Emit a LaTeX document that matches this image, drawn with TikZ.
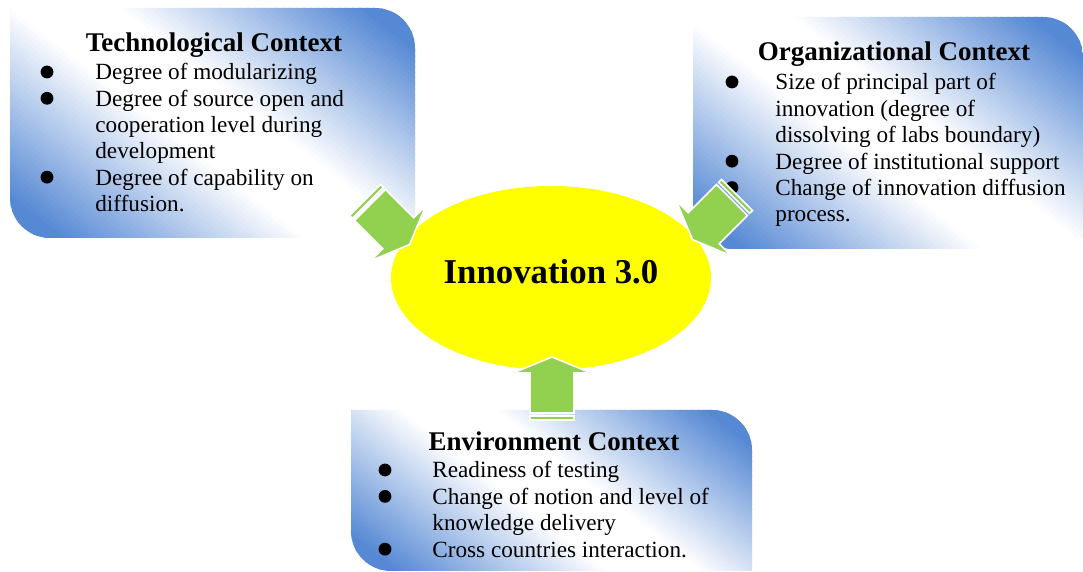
\documentclass[tikz,border=0pt]{standalone}
\usepackage{fontspec}
\setmainfont{Liberation Serif}
\usetikzlibrary{shapes.geometric}
\definecolor{ctxblue}{HTML}{5689D4}
\definecolor{coreyellow}{HTML}{FFFF00}
\definecolor{feedgreen}{HTML}{92D050}

\begin{document}
\begin{tikzpicture}[
  x=0.5pt, y=0.5pt,
  ctxtitle/.style={font=\fontsize{13.5}{16}\selectfont\bfseries, anchor=base, inner sep=0pt},
  ctxitem/.style={font=\fontsize{11.6}{13.3}\selectfont, anchor=base west, inner sep=0pt},
  feed/.pic={
    \filldraw[fill=feedgreen, draw=white, line width=0.8pt] (0,-22) rectangle (4,22);
    \filldraw[fill=feedgreen, draw=white, line width=0.8pt] (7,-22) -- (47,-22) -- (47,-39) -- (63,0)
      -- (47,39) -- (47,22) -- (7,22) -- cycle;
  },
]
\useasboundingbox (0,0) rectangle (1083,572);

% context boxes: rounded on two opposite corners, blue there and white along
% the other diagonal (filled as thin slanted strips)
\foreach \bl/\bb/\br/\bt in {10/334/415/564, 693/323/1083/555, 351/1/752/162} {
  \begin{scope}
    \clip (\bl,\bt) -- ({\br-40},\bt) arc[start angle=90, end angle=0, radius=20pt]
      -- (\br,\bb) -- ({\bl+40},\bb) arc[start angle=270, end angle=180, radius=20pt] -- cycle;
    \pgfmathsetmacro{\hs}{0.5*((\br-\bl)*0.616+(\bt-\bb)*0.788)}
    \begin{scope}[shift={({(\bl+\br)/2},{(\bb+\bt)/2})}, rotate=-38]
      \foreach \k in {0,...,99} {
        \pgfmathsetmacro{\dd}{abs((\k+0.5)/100-0.5)*2}
        \pgfmathsetmacro{\pct}{min(100,max(0,(\dd-0.15)/0.7*100))}
        \pgfmathsetmacro{\ya}{-\hs+(\k/50)*\hs}
        \pgfmathsetmacro{\yb}{-\hs+((\k+1.3)/50)*\hs}
        \fill[ctxblue!\pct!white] (-330,\ya) rectangle (330,\yb);
      }
    \end{scope}
  \end{scope}
}

\node[ctxtitle] (techhead) at (214,520) {Technological Context};
\node[ctxtitle] (orghead) at (894,511) {Organizational Context};
\node[ctxtitle] (envhead) at (554,121) {Environment Context};

% bullet lists (1 = starts a new bullet)
\foreach \mk/\txt [count=\i] in {1/Degree of modularizing, 1/Degree of source open and,
  0/cooperation level during, 0/development, 1/Degree of capability on, 0/diffusion.} {
  \pgfmathsetmacro{\yy}{492 - (\i-1)*26.3}
  \node[ctxitem] (tech\i) at (95,\yy) {\txt};
  \ifnum\mk=1 \fill (47,\yy+8) circle (3.2pt); \fi
}
\foreach \mk/\txt [count=\i] in {1/Size of principal part of, 0/innovation (degree of,
  0/dissolving of labs boundary), 1/Degree of institutional support,
  1/Change of innovation diffusion, 0/process.} {
  \pgfmathsetmacro{\yy}{482 - (\i-1)*26.4}
  \node[ctxitem] (org\i) at (775,\yy) {\txt};
  \ifnum\mk=1 \fill (732,\yy+8) circle (3.2pt); \fi
}
\foreach \mk/\txt [count=\i] in {1/Readiness of testing, 1/Change of notion and level of,
  0/knowledge delivery, 1/Cross countries interaction.} {
  \pgfmathsetmacro{\yy}{94 - (\i-1)*26.4}
  \node[ctxitem] (env\i) at (432,\yy) {\txt};
  \ifnum\mk=1 \fill (385,\yy+8) circle (3.2pt); \fi
}

\node[ellipse, fill=coreyellow, minimum width=160pt, minimum height=92pt, inner sep=0pt,
  font=\fontsize{17.4}{20}\selectfont\bfseries] (core) at (551,294)
  {\raisebox{3pt}[\height][\depth]{Innovation 3.0}};

% block arrows feeding the core
\coordinate (techtail) at (365,372);
\coordinate (orgtail) at (737,377);
\coordinate (envtail) at (552,152);
\pic[rotate=-45] at (techtail) {feed};
\pic[rotate=-135] at (orgtail) {feed};
\pic[rotate=90] at (envtail) {feed};
\end{tikzpicture}
\end{document}
